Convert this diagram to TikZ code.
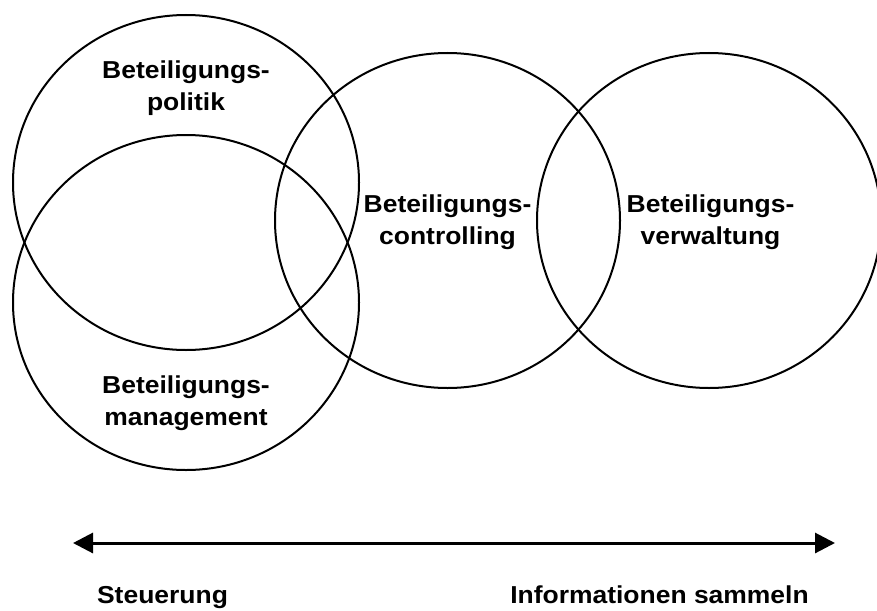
\documentclass[tikz,border=0pt]{standalone}
\usepackage{fontspec}
\setmainfont{Liberation Sans}[FakeStretch=1.08]
\usepackage{tikz}
\usetikzlibrary{arrows.meta}

\tikzset{
  kreis/.style={line width=2pt},
  beschriftung/.style={font=\fontsize{24.5}{32}\selectfont\bfseries, align=center, inner sep=0pt},
  pfeil/.style={line width=3pt, {Triangle[length=20pt,width=20pt]}-{Triangle[length=20pt,width=20pt]}}
}

\begin{document}
\begin{tikzpicture}[x=1pt, y=-1pt]
                \useasboundingbox (0,0) rectangle (877,610);

                % Circles
                \draw[kreis] (186,182.5) ellipse [x radius=173, y radius=167.5];
                \draw[kreis] (186,302.5) ellipse [x radius=173, y radius=167.5];
                \draw[kreis] (447.5,220.5) ellipse [x radius=172.5, y radius=167.5];
                \draw[kreis] (709,220.5) ellipse [x radius=172, y radius=167.5];

                % Nodes
                \node[beschriftung] at (186,88.5) (politik) {Beteiligungs-\\politik};
                \node[beschriftung] at (447.5,222.5) (controlling) {Beteiligungs-\\controlling};
                \node[beschriftung] at (710.5,222.5) (verwaltung) {Beteiligungs-\\verwaltung};
                \node[beschriftung] at (186,403) (management) {Beteiligungs-\\management};
                \node[beschriftung, anchor=base] at (162.5,603) (steuerung) {Steuerung};
                \node[beschriftung, anchor=base] at (659.5,603) (sammeln) {Informationen sammeln};

                % Arrow
                \coordinate (links) at (73,543);
                \coordinate (rechts) at (835,543);
                \draw[pfeil] (links) -- (rechts);

            \end{tikzpicture}
\end{document}
